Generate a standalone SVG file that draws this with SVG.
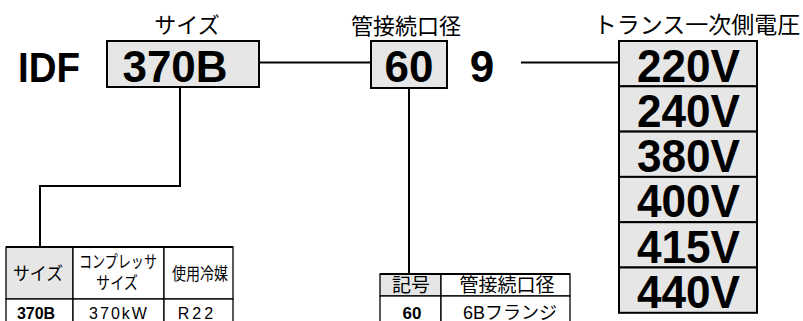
<svg xmlns="http://www.w3.org/2000/svg" width="803" height="321" viewBox="0 0 803 321">
<style>
  .t{font-family:"Liberation Sans","Noto Sans CJK JP",sans-serif;fill:#000}
  .b{font-weight:bold}
  .v{font-weight:bold;font-size:47px}
  .box{fill:#e6e6e6;stroke:#000;stroke-width:2}
  .ln{fill:none;stroke:#000;stroke-width:2}
  .cell{fill:#fff;stroke:#000;stroke-width:1.3}
  .gcell{fill:#e6e6e6;stroke:#000;stroke-width:1.3}
</style>
<rect width="803" height="321" fill="#fff"/>
<g id="connectors">
  <path class="ln" d="M259,62.5 H371"/>
  <path class="ln" d="M521,62.5 H619"/>
  <path class="ln" d="M180,87 V186 H40 V247"/>
  <path class="ln" d="M409,88 V274"/>
</g>
<g id="idf">
  <text class="t b" x="18" y="82" font-size="42" textLength="62" lengthAdjust="spacingAndGlyphs">IDF</text>
</g>
<g id="size">
  <text class="t" x="187" y="33" font-size="22" text-anchor="middle">サイズ</text>
  <rect class="box" x="107" y="41" width="152" height="46"/>
  <text class="t b" x="175" y="82" font-size="44" text-anchor="middle">370B</text>
</g>
<g id="pipe">
  <text class="t" x="406" y="34" font-size="22" text-anchor="middle">管接続口径</text>
  <rect class="box" x="371" y="41" width="76" height="47"/>
  <text class="t b" x="409" y="82" font-size="44" text-anchor="middle">60</text>
</g>
<g id="nine">
  <text class="t b" x="482" y="82" font-size="44" text-anchor="middle">9</text>
</g>
<g id="voltage">
  <text class="t" x="697" y="33" font-size="23" text-anchor="middle">トランス一次側電圧</text>
  <rect class="box" x="619" y="41" width="138" height="45.3"/>
  <rect class="box" x="619" y="86.3" width="138" height="45.3"/>
  <rect class="box" x="619" y="131.6" width="138" height="45.3"/>
  <rect class="box" x="619" y="176.9" width="138" height="45.3"/>
  <rect class="box" x="619" y="222.2" width="138" height="45.3"/>
  <rect class="box" x="619" y="267.5" width="138" height="45.3"/>
  <text class="t v" x="637" y="81.5" textLength="103" lengthAdjust="spacingAndGlyphs">220V</text>
  <text class="t v" x="637" y="126.8" textLength="103" lengthAdjust="spacingAndGlyphs">240V</text>
  <text class="t v" x="637" y="172.1" textLength="103" lengthAdjust="spacingAndGlyphs">380V</text>
  <text class="t v" x="637" y="217.4" textLength="103" lengthAdjust="spacingAndGlyphs">400V</text>
  <text class="t v" x="637" y="262.7" textLength="103" lengthAdjust="spacingAndGlyphs">415V</text>
  <text class="t v" x="637" y="308" textLength="103" lengthAdjust="spacingAndGlyphs">440V</text>
</g>
<g id="size-table">
  <rect class="gcell" x="6" y="247" width="67" height="52"/>
  <rect class="cell" x="73" y="247" width="91" height="52"/>
  <rect class="cell" x="164" y="247" width="69" height="52"/>
  <rect class="cell" x="6" y="299" width="67" height="30"/>
  <rect class="cell" x="73" y="299" width="91" height="30"/>
  <rect class="cell" x="164" y="299" width="69" height="30"/>
  <path class="ln" d="M6,247 H233"/>
  <text class="t" x="13" y="280" font-size="18" textLength="50" lengthAdjust="spacingAndGlyphs">サイズ</text>
  <text class="t" x="79" y="268" font-size="17" textLength="78" lengthAdjust="spacingAndGlyphs">コンプレッサ</text>
  <text class="t" x="96" y="289" font-size="17" textLength="42" lengthAdjust="spacingAndGlyphs">サイズ</text>
  <text class="t" x="172" y="280" font-size="17" textLength="56" lengthAdjust="spacingAndGlyphs">使用冷媒</text>
  <text class="t b" x="36" y="319" font-size="16" text-anchor="middle">370B</text>
  <text class="t" x="119" y="319" font-size="16" text-anchor="middle" letter-spacing="2">370kW</text>
  <text class="t" x="197" y="319" font-size="16" text-anchor="middle" letter-spacing="3">R22</text>
</g>
<g id="pipe-table">
  <rect class="gcell" x="380" y="274" width="61" height="22"/>
  <rect class="cell" x="441" y="274" width="129" height="22"/>
  <rect class="cell" x="380" y="296" width="61" height="30"/>
  <rect class="cell" x="441" y="296" width="129" height="30"/>
  <path class="ln" d="M380,274 H570"/>
  <text class="t" x="411" y="292" font-size="19" text-anchor="middle">記号</text>
  <text class="t" x="507" y="292" font-size="19" text-anchor="middle">管接続口径</text>
  <text class="t b" x="412" y="319" font-size="17" text-anchor="middle">60</text>
  <text class="t" x="510" y="319" font-size="18" text-anchor="middle">6Bフランジ</text>
</g>
</svg>
